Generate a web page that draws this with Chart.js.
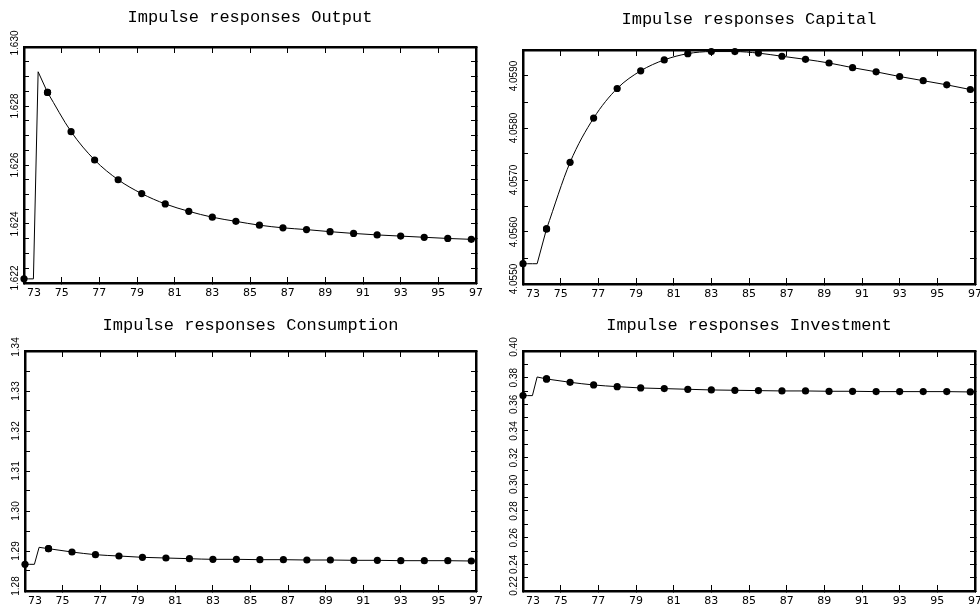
<!DOCTYPE html>
<html>
<head>
<meta charset="utf-8">
<title>Impulse responses</title>
<script src="https://cdn.jsdelivr.net/npm/chart.js@4.4.1/dist/chart.umd.min.js"></script>
<style>
  html, body { margin: 0; padding: 0; background: #fff; }
  #page { position: relative; width: 980px; height: 608px; overflow: hidden; }
  canvas { position: absolute; }
</style>
</head>
<body>
<div id="page">
  <canvas id="cOutput" width="490" height="304" style="left:0;top:0"></canvas>
  <canvas id="cCapital" width="490" height="304" style="left:490px;top:0"></canvas>
  <canvas id="cConsumption" width="490" height="304" style="left:0;top:304px"></canvas>
  <canvas id="cInvestment" width="490" height="304" style="left:490px;top:304px"></canvas>
</div>
<script>
// knots of each path: three pre-shock quarters, the impact quarter,
// then every fifth quarter (the dotted ones) and the last quarter 97
const years = [73, 73.25, 73.5, 73.75, 74.25, 75.5, 76.75, 78, 79.25, 80.5, 81.75, 83,
  84.25, 85.5, 86.75, 88, 89.25, 90.5, 91.75, 93, 94.25, 95.5, 96.75, 97];

const output = [1.62214, 1.62214, 1.62214, 1.62916, 1.62846, 1.62713, 1.62617, 1.62550,
  1.62503, 1.62468, 1.62443, 1.62423, 1.62409, 1.62396, 1.62387, 1.62381, 1.62374,
  1.62368, 1.62363, 1.62359, 1.62355, 1.62351, 1.62348, 1.62347];

const capital = [4.05539, 4.05539, 4.05539, 4.05539, 4.05606, 4.05734, 4.05819, 4.05876,
  4.05910, 4.05931, 4.05943, 4.05947, 4.05947, 4.05944, 4.05938, 4.05932, 4.05925,
  4.05916, 4.05908, 4.05899, 4.05891, 4.05883, 4.05874, 4.05872];

const consumption = [1.28667, 1.28667, 1.28667, 1.29092, 1.29058, 1.28975, 1.28908, 1.28875,
  1.28842, 1.28825, 1.28808, 1.28792, 1.28792, 1.28783, 1.28783, 1.28775, 1.28775,
  1.28767, 1.28767, 1.28758, 1.28758, 1.28758, 1.28750, 1.28750];

const investment = [0.36654, 0.36654, 0.36654, 0.38052, 0.37903, 0.37653, 0.37453, 0.37328,
  0.37228, 0.37179, 0.37129, 0.37079, 0.37054, 0.37029, 0.37004, 0.37004, 0.36979,
  0.36979, 0.36954, 0.36954, 0.36954, 0.36954, 0.36929, 0.36929];

const xLabels = ['73', '75', '77', '79', '81', '83', '85', '87', '89', '91', '93', '95', '97'];
const outputLabels = ['1.622', '1.624', '1.626', '1.628', '1.630'];
const capitalLabels = ['4.0550', '4.0560', '4.0570', '4.0580', '4.0590'];
const consumptionLabels = ['1.28', '1.29', '1.30', '1.31', '1.32', '1.33', '1.34'];
const investmentLabels = ['0.22', '0.24', '0.26', '0.28', '0.30', '0.32', '0.34', '0.36', '0.38', '0.40'];

// a dot every fifth quarter counted from 73
const isMarker = yr => ((yr - 73) * 4) % 5 === 0;

// tick labels: years under the frame, values turned to read bottom to top
const frameLabels = {
  id: 'frameLabels',
  afterDraw(chart, args, opts) {
    const xs = chart.scales.x, ys = chart.scales.y;
    const ctx = chart.ctx;
    ctx.save();
    ctx.fillStyle = '#000';
    ctx.textBaseline = 'middle';

    ctx.font = opts.xFont;
    xLabels.forEach((label, i) => {
      const px = xs.getPixelForValue(Number(label));
      ctx.textAlign = i === 0 ? 'left' : 'center';
      ctx.fillText(label, i === 0 ? px + 3 : px, xs.top + opts.xGap);
    });

    ctx.font = opts.yFont;
    ctx.textAlign = 'center';
    for (const label of opts.labels) {
      const v = Number(label);
      let py = ys.getPixelForValue(v);
      // end labels are pulled up off the corners
      if (v === ys.min) py -= 5;
      if (v === ys.max) py -= 4;
      ctx.save();
      ctx.translate(ys.right - opts.yGap, py);
      ctx.rotate(-Math.PI / 2);
      ctx.fillText(label, 0, 0);
      ctx.restore();
    }
    ctx.restore();
  }
};
Chart.register(frameLabels);

const W = 490, H = 304;

const panels = [
  { canvas: 'cOutput', title: 'Impulse responses Output', values: output,
    yMin: 1.622, yMax: 1.630, yStep: 0.0005, labels: outputLabels,
    area: { left: 24, top: 47, right: 476, bottom: 283 }, titleY: 17 },
  { canvas: 'cCapital', title: 'Impulse responses Capital', values: capital,
    yMin: 4.0550, yMax: 4.0595, yStep: 0.0005, labels: capitalLabels,
    area: { left: 33, top: 50, right: 485, bottom: 284 }, titleY: 19 },
  { canvas: 'cConsumption', title: 'Impulse responses Consumption', values: consumption,
    yMin: 1.28, yMax: 1.34, yStep: 0.005, labels: consumptionLabels,
    area: { left: 25, top: 47, right: 476, bottom: 287 }, titleY: 21 },
  { canvas: 'cInvestment', title: 'Impulse responses Investment', values: investment,
    yMin: 0.22, yMax: 0.40, yStep: 0.01, labels: investmentLabels,
    area: { left: 33, top: 47, right: 485, bottom: 287 }, titleY: 21 }
];

const lineStyle = {
  borderColor: '#000',
  borderWidth: 1,
  pointRadius: c => (isMarker(c.raw.x) ? 3.6 : 0),
  pointBackgroundColor: '#000',
  pointBorderWidth: 0,
  clip: false
};

function frameAxis(position, min, max, step, tickLen, size) {
  const horizontal = position === 'top' || position === 'bottom';
  return {
    type: 'linear',
    position: position,
    min: min,
    max: max,
    ticks: { stepSize: step, display: false },
    grid: { drawOnChartArea: false, tickLength: tickLen, color: '#000', lineWidth: 1 },
    border: { display: true, color: '#000', width: 2.5 },
    afterFit: s => {
      if (horizontal) s.height = size; else s.width = size;
      s.paddingLeft = s.paddingRight = s.paddingTop = s.paddingBottom = 0;
    }
  };
}

for (const p of panels) {
  const pts = years.map((x, i) => ({ x: x, y: p.values[i] }));
  const a = p.area;

  new Chart(document.getElementById(p.canvas), {
    type: 'line',
    data: {
      datasets: [
        // smooth adjustment path after the impact quarter
        Object.assign({ data: pts.slice(4), cubicInterpolationMode: 'monotone',
          xAxisID: 'x', yAxisID: 'y' }, lineStyle),
        // flat start and the jump on impact
        Object.assign({ data: pts.slice(0, 5), tension: 0,
          xAxisID: 'x', yAxisID: 'y' }, lineStyle)
      ]
    },
    options: {
      responsive: false,
      animation: false,
      devicePixelRatio: 1,
      events: [],
      layout: { padding: { left: 0, top: 0, bottom: 0, right: W - a.right }, autoPadding: false },
      scales: {
        x: frameAxis('bottom', 73, 97, 2, -6, H - a.bottom),
        xTop: frameAxis('top', 73, 97, 2, -6, 0),
        y: frameAxis('left', p.yMin, p.yMax, p.yStep, -5, a.left),
        yRight: frameAxis('right', p.yMin, p.yMax, p.yStep, -5, 0)
      },
      plugins: {
        legend: { display: false },
        tooltip: { enabled: false },
        title: {
          display: true,
          text: p.title,
          fullSize: false,
          color: '#000',
          font: { family: 'Liberation Mono', size: 17, weight: 'normal', lineHeight: '20px' },
          padding: { top: p.titleY - 10, bottom: a.top - p.titleY - 10 }
        },
        frameLabels: {
          labels: p.labels,
          xFont: '11px "DejaVu Sans"',
          yFont: '10px "Liberation Sans"',
          xGap: 10,
          yGap: 9
        }
      }
    }
  });
}
</script>
</body>
</html>
